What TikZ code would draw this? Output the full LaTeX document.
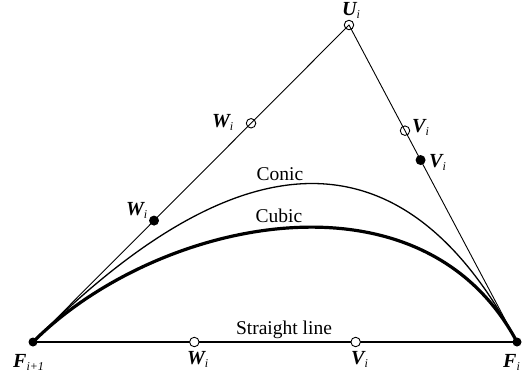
\documentclass[tikz,border=0pt]{standalone}
\usepackage{fontspec}
\setmainfont{Liberation Serif}
\usetikzlibrary{calc}
\newcommand{\ptlab}[2]{{\fontsize{20}{20}\selectfont\bfseries\itshape #1}\raisebox{-3.5pt}{\fontsize{12}{12}\selectfont\itshape #2}}
\tikzset{
  opendot/.style={circle,draw,line width=0.9pt,inner sep=0pt,minimum size=9.5pt},
  openwhite/.style={opendot,fill=white},
  filldot/.style={circle,fill,inner sep=0pt,minimum size=10pt},
  enddot/.style={circle,fill,inner sep=0pt,minimum size=9pt},
  edgeline/.style={line width=0.9pt},
  conicline/.style={line width=1.3pt},
  cubicline/.style={line width=3.2pt},
  baseline/.style={line width=1.3pt},
  ptlabel/.style={anchor=base west,inner sep=0pt},
  curvelabel/.style={anchor=base,inner sep=0pt,font=\fontsize{19.5}{20}\selectfont}
}
\begin{document}
\begin{tikzpicture}[x=1pt,y=-1pt]
\useasboundingbox (0,0) rectangle (528,375);
% main points
\coordinate (pF1) at (33,342);
\coordinate (pF2) at (517,342);
\coordinate (pU) at (349,25);
% control points of the conic (parabola)
\coordinate (c1) at ($(pF1)!2/3!(pU)$);
\coordinate (c2) at ($(pF2)!2/3!(pU)$);
% edges
\draw[edgeline] (pF1) -- (pU) -- (pF2);
\draw[baseline] (pF1) -- (pF2);
% curves
\draw[conicline] (pF1) .. controls (c1) and (c2) .. (pF2);
\node[filldot] (Wf) at ($(pF1)!0.383!(pU)$) {};
\node[filldot] (Vf) at ($(pF2)!0.574!(pU)$) {};
\draw[cubicline] (pF1) .. controls (Wf.center) and (Vf.center) .. (pF2);
% points
\node[opendot] (U) at (pU) {};
\node[opendot] (Wo) at ($(pF1)!0.69!(pU)$) {};
\node[opendot] (Vo) at ($(pF2)!2/3!(pU)$) {};
\node[openwhite] (Wb) at ($(pF1)!1/3!(pF2)$) {};
\node[openwhite] (Vb) at ($(pF1)!2/3!(pF2)$) {};
\node[enddot] (F1) at (pF1) {};
\node[enddot] (F2) at (pF2) {};
% labels
\node[ptlabel] (lU) at (342,15) {\ptlab{U}{i}};
\node[ptlabel] (lWo) at (212,127) {\ptlab{W}{i}};
\node[ptlabel] (lVo) at (412,132) {\ptlab{V}{i}};
\node[ptlabel] (lVf) at (429,167) {\ptlab{V}{i}};
\node[ptlabel] (lWf) at (126,215) {\ptlab{W}{i}};
\node[ptlabel] (lWb) at (187,364) {\ptlab{W}{i}};
\node[ptlabel] (lVb) at (351,364) {\ptlab{V}{i}};
\node[ptlabel] (lF1) at (13,367) {\ptlab{F}{i+1}};
\node[ptlabel] (lF2) at (503,367) {\ptlab{F}{i}};
\node[curvelabel] (tConic) at (280,180) {Conic};
\node[curvelabel] (tCubic) at (279,222) {Cubic};
\node[curvelabel] (tLine) at (284,334) {Straight line};
\end{tikzpicture}
\end{document}
